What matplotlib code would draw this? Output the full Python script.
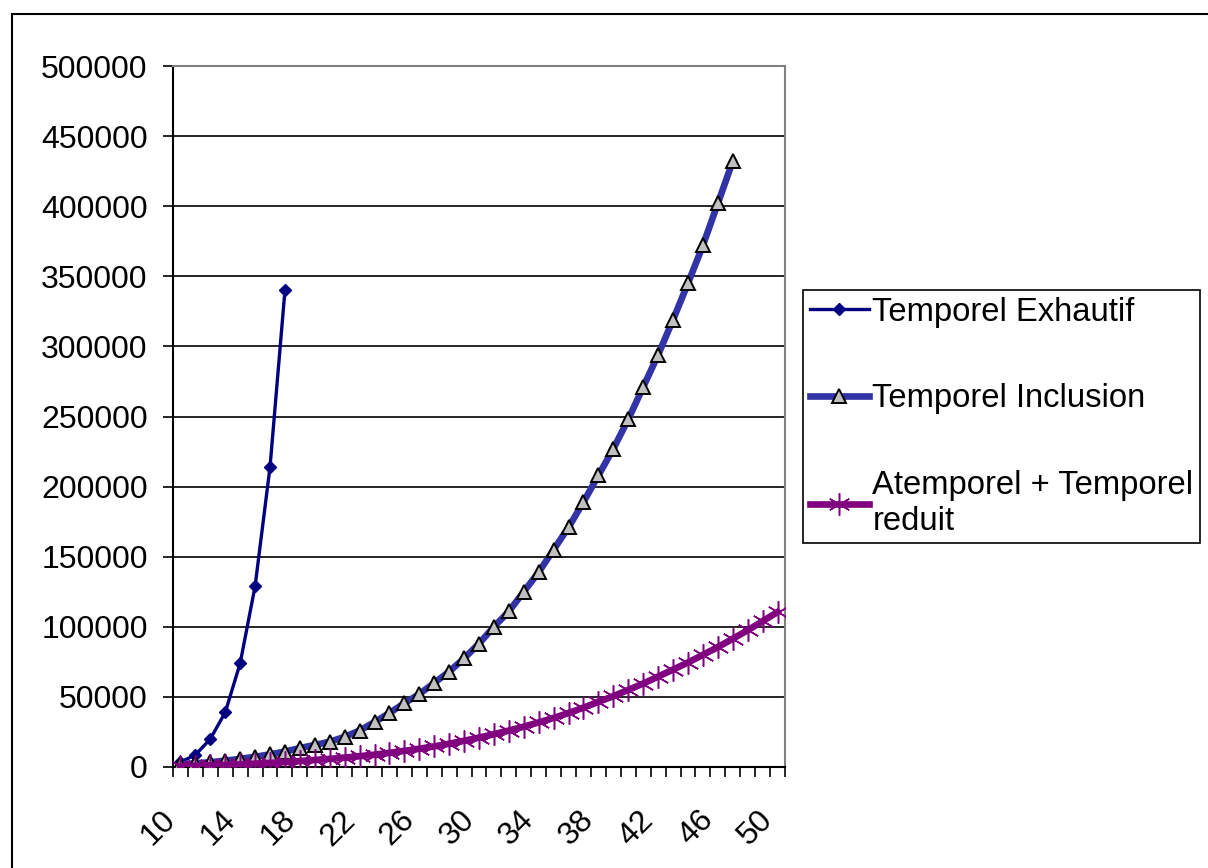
import matplotlib
matplotlib.use("Agg")
import matplotlib.pyplot as plt
import matplotlib.transforms as mtransforms
from matplotlib.patches import Rectangle

# categories on the x axis (n)
categories = [10, 11, 12, 13, 14, 15, 16, 17, 18, 19, 20, 21, 22, 23, 24, 25,
              26, 27, 28, 29, 30, 31, 32, 33, 34, 35, 36, 37, 38, 39, 40, 41,
              42, 43, 44, 45, 46, 47, 48, 49, 50]

# Temporel Exhautif : n = 10..17
exhautif = [3500, 8600, 20000, 39000, 74000, 129000, 214000, 340000]

# Temporel Inclusion : n = 10..47
inclusion = [2000, 2600, 3400, 4500, 5800, 7300, 9000, 11000, 13500, 15700,
             18000, 21500, 26000, 32000, 38500, 45500, 52000, 60000, 68000,
             77500, 88000, 100000, 111000, 125000, 139000, 155000, 171000,
             189000, 208000, 227000, 248000, 271000, 294000, 319000, 345000,
             372000, 402000, 432000]

# Atemporel + Temporel reduit : n = 10..50
atemporel = [700, 900, 1200, 1500, 1900, 2400, 2900, 3500, 4200, 5000, 5800,
             6700, 7700, 8800, 10100, 11500, 13000, 14700, 16600, 18700, 21000,
             23400, 26000, 28800, 31800, 35000, 38500, 42300, 46500, 50500,
             55000, 59500, 64500, 69500, 74500, 80000, 85500, 91500, 97500,
             104000, 110500]

labels = ["Temporel Exhautif", "Temporel Inclusion", "Atemporel + Temporel\nreduit"]

plt.rcParams['font.family'] = ['Liberation Sans', 'DejaVu Sans']
fs = 23

fig = plt.figure(figsize=(12.08, 8.68), dpi=100)
fig.patches.append(Rectangle((12 / 1208, -0.05), 1.2, (868 - 14) / 868 + 0.05,
                             transform=fig.transFigure, fill=False,
                             edgecolor='black', linewidth=1.5))

ax = fig.add_axes([173 / 1208, 101 / 868, 612 / 1208, 701 / 868])

idx = list(range(len(categories)))
h1, = ax.plot(idx[:len(exhautif)], exhautif, color='#000080', lw=2.4,
              marker='D', markersize=6, markerfacecolor='#000080',
              markeredgecolor='#000080', label=labels[0], zorder=3)
h2, = ax.plot(idx[:len(inclusion)], inclusion, color='#3333A8', lw=4.8,
              marker='^', markersize=10.5, markerfacecolor='#C0C0C0',
              markeredgecolor='black', markeredgewidth=1.4,
              label=labels[1], zorder=4)
h3, = ax.plot(idx[:len(atemporel)], atemporel, color='#800080', lw=4.8,
              marker=(6, 2, 0), markersize=16, markeredgecolor='#800080',
              markeredgewidth=1.1, label=labels[2], zorder=5)

ax.set_xlim(-0.5, len(categories) - 0.5)
ax.set_ylim(0, 500000)
ax.set_yticks(range(0, 500001, 50000))
ax.yaxis.grid(True, color='black', lw=1.2)
ax.set_axisbelow(True)

ax.set_xticks(idx[::4])
ax.set_xticklabels([str(c) for c in categories[::4]], rotation=45,
                   ha='right', va='center', rotation_mode='anchor')
ax.set_xticks([i - 0.5 for i in range(len(categories) + 1)], minor=True)
ax.tick_params(axis='x', which='major', length=0, pad=35, labelsize=fs)
ax.tick_params(axis='x', which='minor', length=7.2, width=1.2, direction='out')
ax.tick_params(axis='y', length=7.2, width=1.2, direction='out', pad=11, labelsize=fs)

offset = mtransforms.ScaledTranslation(-9 / 100, 0, fig.dpi_scale_trans)
for lbl in ax.get_xticklabels():
    lbl.set_transform(lbl.get_transform() + offset)

for s in ['left', 'bottom']:
    ax.spines[s].set_color('black')
    ax.spines[s].set_linewidth(1.5)
for s in ['top', 'right']:
    ax.spines[s].set_color('#808080')
    ax.spines[s].set_linewidth(1.5)

leg = fig.legend([h1, h2, h3], labels, loc='upper left',
                 bbox_to_anchor=(803 / 1208, 1 - 290 / 868),
                 fontsize=23.6, frameon=True, fancybox=False, framealpha=1,
                 edgecolor='black', handlelength=1.8, handletextpad=0.12,
                 borderpad=0.2, labelspacing=1.7, borderaxespad=0)
leg.get_frame().set_linewidth(1.2)

fig.savefig("out.png", dpi=100)
